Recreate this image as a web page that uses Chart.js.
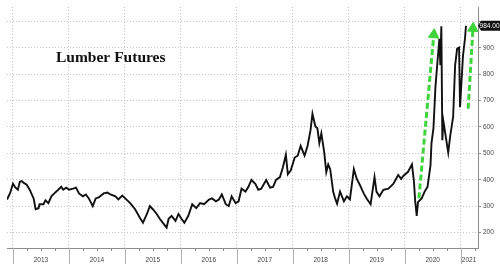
<!DOCTYPE html>
<html>
<head>
<meta charset="utf-8">
<script src="https://cdn.jsdelivr.net/npm/chart.js@4/dist/chart.umd.min.js"></script>
<style>
  html, body { margin: 0; padding: 0; background: #fff; }
  #wrap { width: 500px; height: 264px; position: relative; }
</style>
</head>
<body>
<div id="wrap"><canvas id="myChart"></canvas></div>
<script>
// decimal year of each reading, and the lumber price at that time
const dates = [
  2012.894, 2012.947, 2013.000, 2013.035, 2013.088, 2013.123, 2013.158, 2013.194, 2013.246, 2013.299,
  2013.370, 2013.405, 2013.458, 2013.475, 2013.546, 2013.581, 2013.634, 2013.687, 2013.739, 2013.810,
  2013.863, 2013.898, 2013.951, 2014.004, 2014.074, 2014.127, 2014.180, 2014.250, 2014.303, 2014.356,
  2014.426, 2014.479, 2014.532, 2014.620, 2014.690, 2014.743, 2014.831, 2014.884, 2014.954, 2015.007,
  2015.095, 2015.183, 2015.271, 2015.324, 2015.394, 2015.447, 2015.500, 2015.570, 2015.623, 2015.676,
  2015.746, 2015.782, 2015.835, 2015.905, 2015.958, 2016.011, 2016.063, 2016.134, 2016.204, 2016.275,
  2016.345, 2016.415, 2016.504, 2016.556, 2016.627, 2016.680, 2016.732, 2016.803, 2016.856, 2016.908,
  2016.979, 2017.032, 2017.085, 2017.155, 2017.208, 2017.261, 2017.331, 2017.384, 2017.437, 2017.525,
  2017.595, 2017.648, 2017.701, 2017.771, 2017.824, 2017.877, 2017.912, 2017.965, 2018.035, 2018.088,
  2018.141, 2018.211, 2018.264, 2018.317, 2018.352, 2018.405, 2018.440, 2018.475, 2018.511, 2018.563,
  2018.599, 2018.634, 2018.669, 2018.722, 2018.757, 2018.792, 2018.845, 2018.915, 2018.968, 2019.021,
  2019.092, 2019.144, 2019.197, 2019.268, 2019.320, 2019.391, 2019.461, 2019.496, 2019.549, 2019.620,
  2019.708, 2019.796, 2019.884, 2019.937, 2019.975, 2020.060, 2020.130, 2020.165, 2020.188, 2020.215,
  2020.238, 2020.303, 2020.356, 2020.408, 2020.461, 2020.479, 2020.514, 2020.549, 2020.585, 2020.620,
  2020.637, 2020.655, 2020.673, 2020.690, 2020.725, 2020.778, 2020.813, 2020.866, 2020.901, 2020.937,
  2020.972, 2020.989, 2021.025, 2021.042, 2021.077, 2021.095
];
const prices = [
  325, 348, 385, 373, 362, 392, 395, 388, 381, 362,
  329, 288, 292, 307, 307, 322, 311, 337, 348, 362,
  373, 362, 370, 362, 366, 370, 348, 337, 344, 329,
  300, 329, 333, 348, 351, 344, 337, 325, 340, 329,
  311, 288, 255, 237, 270, 300, 288, 270, 252, 237,
  218, 252, 263, 244, 270, 252, 237, 263, 307, 292,
  311, 307, 325, 329, 318, 325, 344, 307, 300, 337,
  311, 318, 366, 355, 373, 399, 384, 362, 366, 399,
  370, 373, 399, 410, 447, 495, 421, 436, 484, 491,
  528, 491, 528, 587, 650, 602, 595, 539, 576, 503,
  429, 458, 440, 355, 329, 309, 355, 318, 337, 325,
  440, 403, 381, 348, 329, 307, 410, 355, 337, 362,
  366, 384, 418, 403, 414, 430, 458, 395, 318, 263,
  315, 329, 355, 373, 454, 539, 595, 750, 846, 934,
  834, 982, 550, 624, 576, 503, 565, 639, 834, 897,
  901, 675, 808, 871, 934, 984
];

// the two green dashed arrows (start, head)
const arrowOneX = [2020.254, 2020.52];
const arrowOneY = [329, 950];
const arrowTwoX = [2021.134, 2021.22];
const arrowTwoY = [669, 974];

const yearLabels = ['2013', '2014', '2015', '2016', '2017', '2018', '2019', '2020', '2021'];
const priceTicks = [200, 300, 400, 500, 600, 700, 800, 900, 1000];

const xMin = 2012.894;
const xMax = 2021.31;
const yMin = 141;
const yMax = 1055;

const green = '#3fd43a';
const gridColor = '#c4c4c4';
const axisColor = '#8c8c8c';

function toPoints(xs, ys) {
  return xs.map((x, i) => ({ x: x, y: ys[i] }));
}

const extras = {
  id: 'extras',
  afterDraw(chart) {
    const ctx = chart.ctx;
    const area = chart.chartArea;
    const xs = chart.scales.x;
    const ys = chart.scales.y;
    ctx.save();
    ctx.strokeStyle = '#b0b0b0';
    ctx.lineWidth = 1;
    for (let i = 0; i < yearLabels.length; i++) {
      const yr = Number(yearLabels[i]);
      // year separators under the axis
      const px = Math.round(xs.getPixelForValue(yr)) + 0.5;
      ctx.strokeStyle = '#b0b0b0';
      ctx.beginPath();
      ctx.moveTo(px, area.bottom);
      ctx.lineTo(px, chart.height);
      ctx.stroke();
      // quarter ticks
      ctx.strokeStyle = axisColor;
      for (let q = 1; q < 4; q++) {
        const v = yr + q / 4;
        if (v > xMax) break;
        const qx = Math.round(xs.getPixelForValue(v)) + 0.5;
        ctx.beginPath();
        ctx.moveTo(qx, area.bottom);
        ctx.lineTo(qx, area.bottom + 3);
        ctx.stroke();
      }
    }
    // title
    ctx.fillStyle = '#111';
    ctx.font = 'bold 15.5px "Liberation Serif"';
    ctx.textBaseline = 'alphabetic';
    ctx.textAlign = 'left';
    ctx.fillText('Lumber Futures', 56, 61.5);
    // last price box
    const last = prices[prices.length - 1];
    const py = ys.getPixelForValue(last);
    ctx.fillStyle = '#111';
    ctx.beginPath();
    ctx.moveTo(area.right, py);
    ctx.lineTo(area.right + 3, py - 5);
    ctx.lineTo(chart.width, py - 5);
    ctx.lineTo(chart.width, py + 5);
    ctx.lineTo(area.right + 3, py + 5);
    ctx.closePath();
    ctx.fill();
    ctx.fillStyle = '#fff';
    ctx.font = '6.5px "Liberation Sans"';
    ctx.textBaseline = 'middle';
    ctx.textAlign = 'right';
    ctx.fillText(last.toFixed(2), chart.width - 0.5, py + 0.5);
    ctx.restore();
  }
};

const data = {
  datasets: [
    {
      label: 'Lumber',
      data: toPoints(dates, prices),
      borderColor: '#111',
      borderWidth: 1.9,
      pointRadius: 0,
      tension: 0
    },
    {
      label: 'arrow1',
      data: toPoints(arrowOneX, arrowOneY),
      borderColor: green,
      backgroundColor: green,
      borderWidth: 3,
      borderDash: [6, 3],
      pointStyle: 'triangle',
      pointRadius: [0, 6],
      pointRotation: [0, 5],
      pointBorderWidth: 1
    },
    {
      label: 'arrow2',
      data: toPoints(arrowTwoX, arrowTwoY),
      borderColor: green,
      backgroundColor: green,
      borderWidth: 3,
      borderDash: [6, 3],
      pointStyle: 'triangle',
      pointRadius: [0, 6],
      pointRotation: [0, 3],
      pointBorderWidth: 1
    }
  ]
};

const options = {
  responsive: true,
  maintainAspectRatio: false,
  animation: false,
  layout: { padding: 0 },
  plugins: {
    legend: { display: false },
    tooltip: { enabled: false }
  },
  scales: {
    x: {
      type: 'linear',
      min: xMin,
      max: xMax,
      afterBuildTicks: (scale) => {
        const t = [];
        yearLabels.forEach((y) => {
          const n = Number(y);
          t.push({ value: n });
          t.push({ value: n === 2021 ? 2021.15 : n + 0.5 });
        });
        scale.ticks = t;
      },
      afterFit: (scale) => { scale.height = 16; },
      grid: {
        color: (c) => (c.tick && Number.isInteger(c.tick.value) ? gridColor : 'rgba(0,0,0,0)'),
        drawTicks: false
      },
      border: { display: true, color: axisColor, width: 1, dash: [1, 2] },
      ticks: {
        autoSkip: false,
        maxRotation: 0,
        padding: 8,
        color: '#444',
        font: { family: 'Liberation Sans', size: 6.5 },
        callback: (v) => (Number.isInteger(v) ? '' : String(Math.floor(v)))
      }
    },
    y: {
      position: 'right',
      min: yMin,
      max: yMax,
      afterBuildTicks: (scale) => {
        scale.ticks = priceTicks.map((v) => ({ value: v }));
      },
      afterFit: (scale) => { scale.width = 22; },
      grid: {
        color: gridColor,
        tickColor: axisColor,
        tickLength: 3,
        tickBorderDash: []
      },
      border: { display: true, color: axisColor, width: 1, dash: [1, 2] },
      ticks: {
        padding: 2,
        color: '#444',
        font: { family: 'Liberation Sans', size: 6.5 },
        callback: (v) => (v >= 1000 ? '' : String(v))
      }
    }
  }
};

const myChart = new Chart(document.querySelector('#myChart'), {
  type: 'line',
  data: data,
  options: options,
  plugins: [extras]
});
</script>
</body>
</html>
